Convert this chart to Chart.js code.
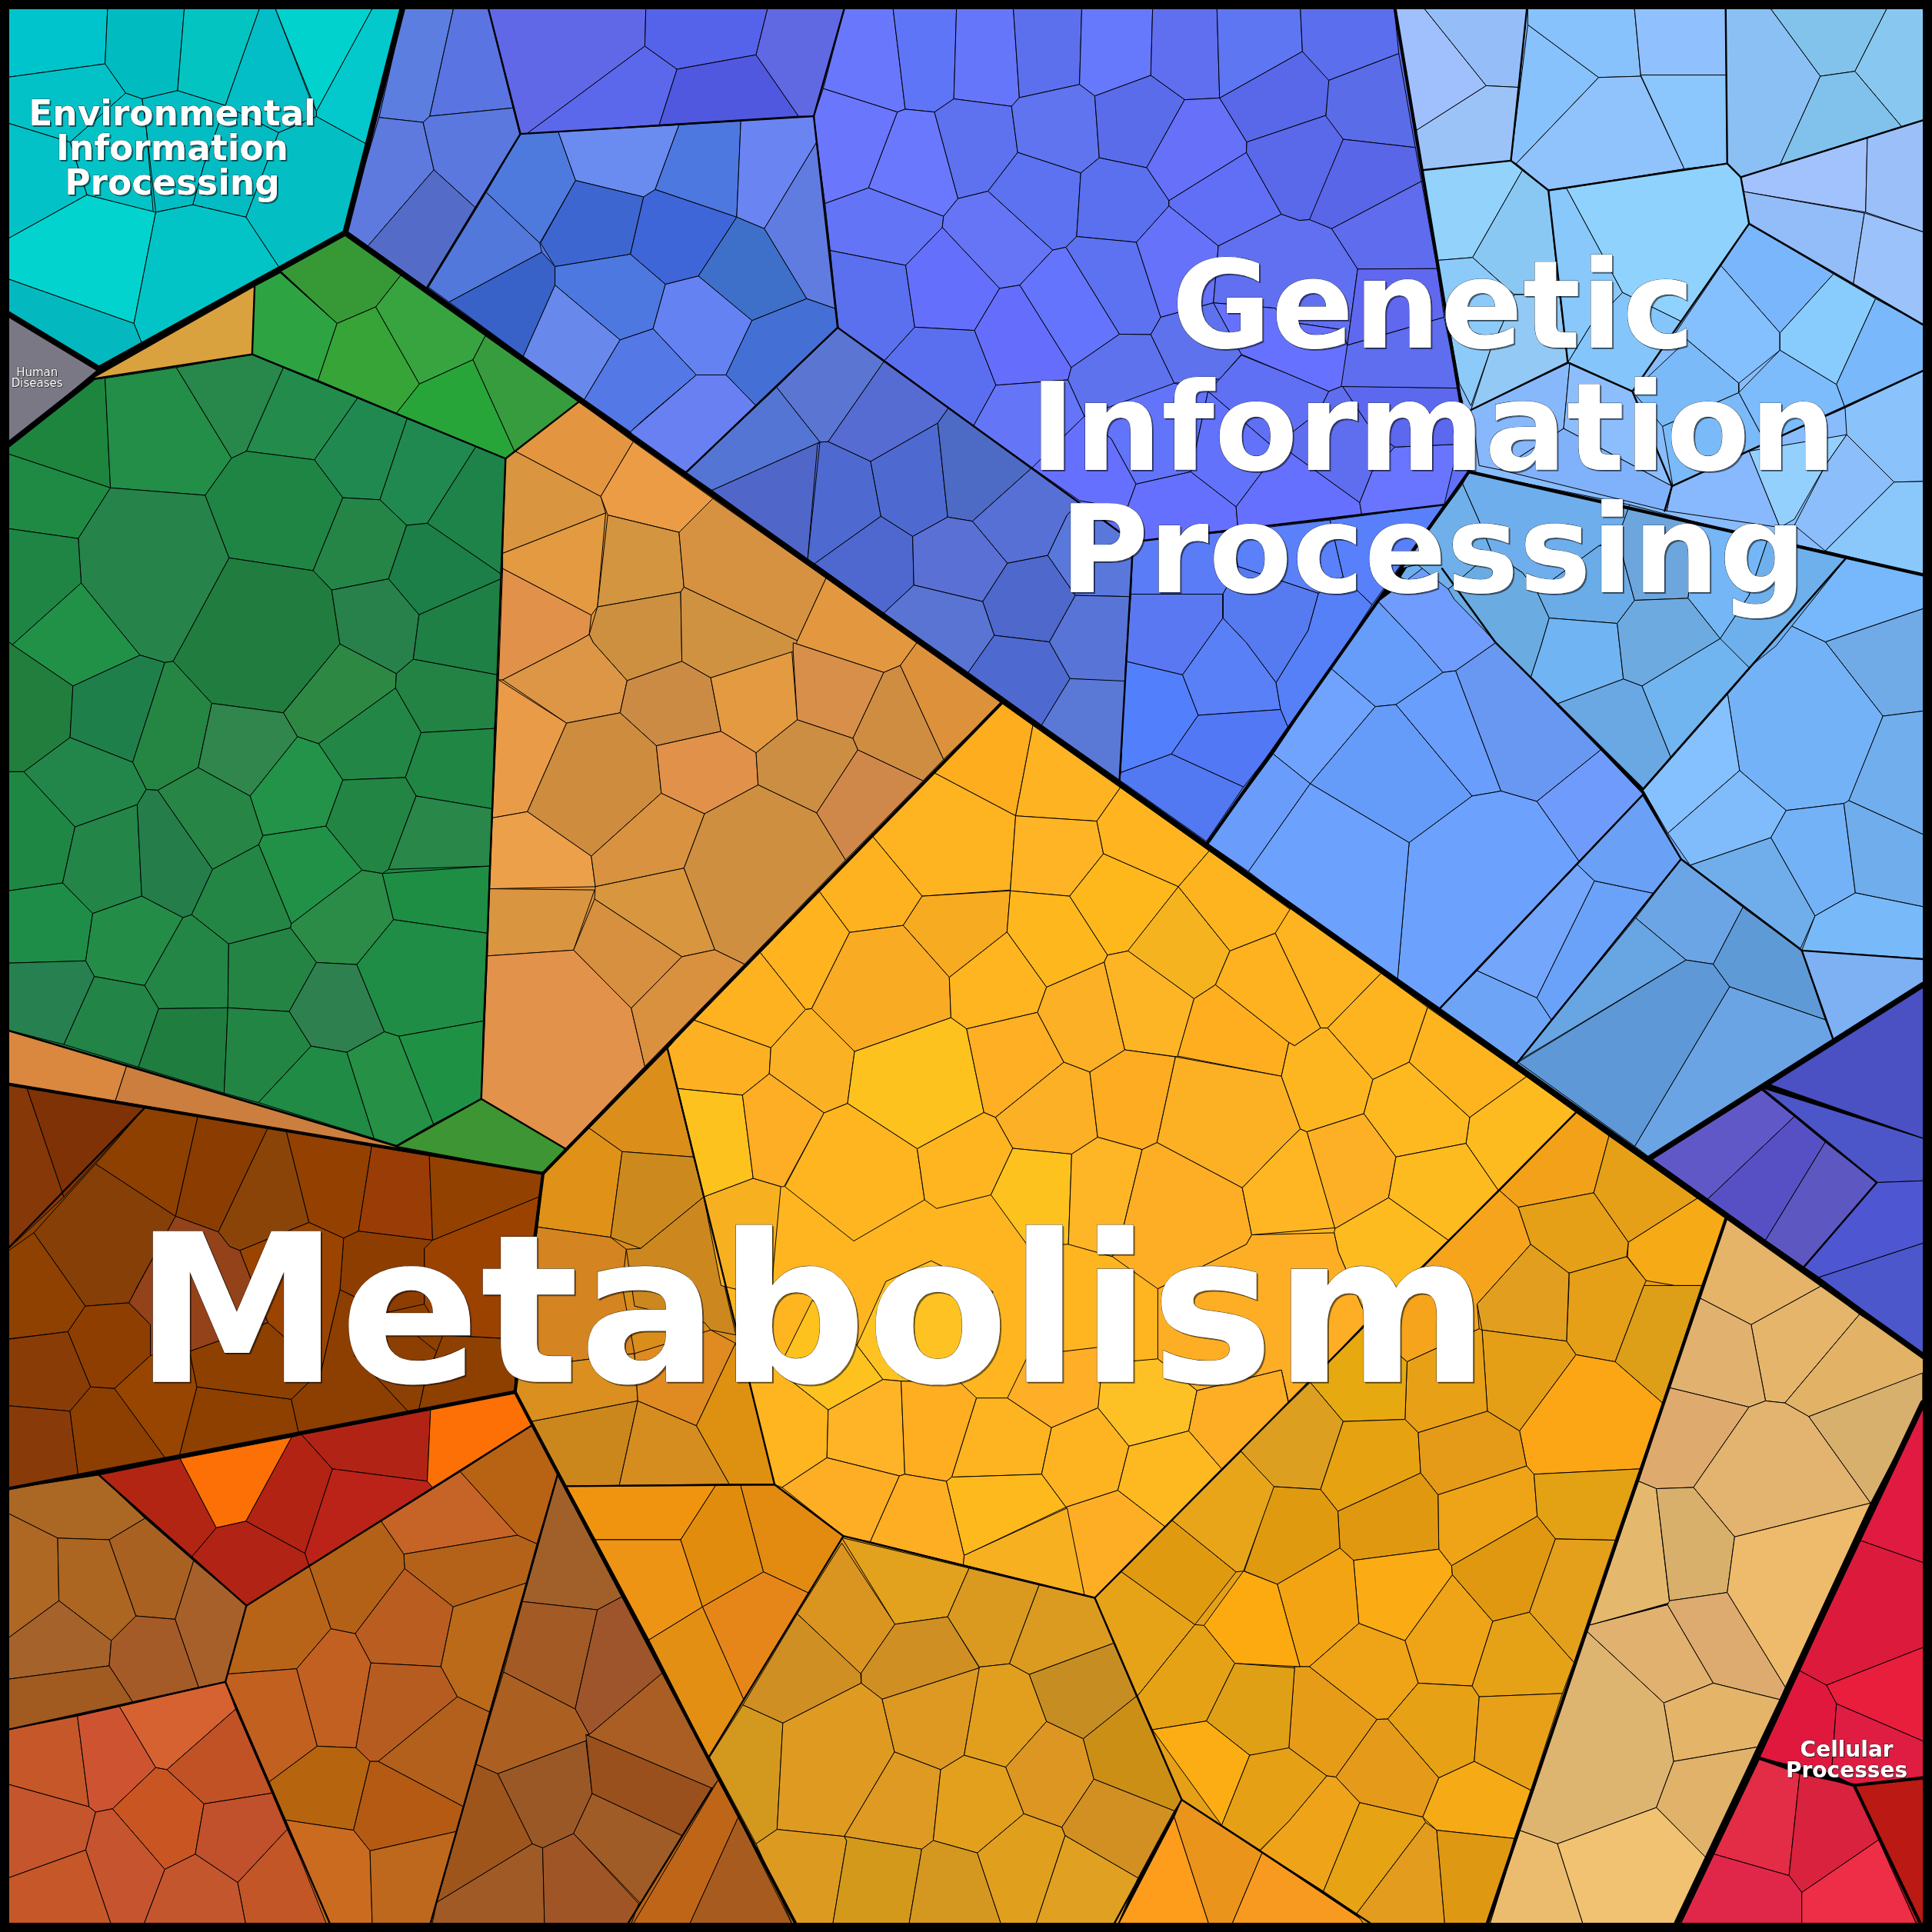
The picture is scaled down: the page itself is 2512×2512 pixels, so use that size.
<!DOCTYPE html>
<html lang="en">
<head>
<meta charset="UTF-8" />
<title>Voronoi treemap</title>
<script src="https://cdn.jsdelivr.net/npm/chart.js"></script>
<style>
  body { margin: 0; background: #000; }
  #chartBox { width: 2512px; height: 2512px; }
</style>
</head>
<body>
<div id="chartBox"><canvas id="treemap" width="2512" height="2512"></canvas></div>
<script>
// Cell outlines, as flat x,y lists.
// Units are 1/4689 of the picture; each group says which origin it was read from.
const W = 4689;

const baseCells = [
  [2432,1705, 2930,2047, 3825,2700, 2657,3878, 2047,3728, 1880,3603, 1620,2545],
  [0,2628, 1318,2848, 1250,3378, 0,3617],
  [1318,2848, 1620,2545, 1880,3603, 1375,3607, 1250,3378],
  [3382,0, 3545,975, 3565,1145, 3505,1225, 2750,1315, 2033,795, 1975,282, 2055,0],
  [3825,2700, 4190,2955, 3610,4667, 3325,4667, 2868,4368, 2657,3878],
  [3382,0, 4689,0, 4689,1395, 3565,1145],
  [3565,1145, 4480,1355, 3988,1915, 3630,1560, 3400,1400],
  [0,1095, 222,920, 612,860, 1227,1113, 1168,2667, 962,2782, 0,2495],
  [1227,1113, 1405,975, 2432,1705, 1372,2788, 1168,2667],
  [2047,3728, 2657,3878, 2868,4368, 2705,4667, 1930,4667, 1720,4265],
  [3988,1915, 4480,1355, 4667,1395, 4667,2328, 4373,2307, 4080,2085],
  [0,0, 982,0, 838,565, 240,895, 0,750],
  [982,0, 1180,0, 1263,325, 1037,697, 838,565],
  [1180,0, 2055,0, 1975,282, 1263,325],
  [1263,325, 1975,282, 2033,795, 1665,1147, 1037,697],
  [2033,795, 2750,1315, 2717,1895, 1665,1147],
  [2750,1315, 3505,1225, 2930,2047, 2717,1895],
  [3500,1380, 4080,2085, 3682,2580, 2930,2047],
  [4080,2085, 4373,2307, 4450,2525, 4005,2810, 3682,2580],
  [1290,3460, 1930,4667, 800,4667, 547,4082, 598,3897]
];
const baseColors = ['#feb520','#8e4000','#d98e1c','#6070f4','#e5a017','#88bcfc','#6eaeec','#208545','#d9953f','#df9a22','#74b2f8','#03c4c6','#5c7ee0','#5562ea','#5478e6','#5470d4','#5580f8','#6ca1fe','#64a2dd','#b86214'];

// origin 0,0
const envCells = [
  [0,0, 262,0, 255,155, 0,190],
  [262,0, 449,0, 431,220, 345,240, 305,226, 255,155],
  [449,0, 637,0, 547,256, 431,220],
  [637,0, 660,0, 755,245, 768,270, 768,283, 676,322, 547,256],
  [660,0, 915,0, 768,270],
  [915,0, 982,0, 890,350, 768,283, 768,270],
  [0,190, 255,155, 305,226, 170,345, 0,293],
  [305,226, 345,240, 355,310, 372,515, 211,473, 170,345],
  [345,240, 431,220, 547,256, 495,400, 468,497, 378,515, 355,310],
  [547,256, 676,322, 597,527, 468,497, 495,400],
  [676,322, 768,283, 890,350, 838,565, 678,650, 597,527],
  [0,293, 170,345, 211,473, 0,590],
  [0,590, 211,473, 378,515, 325,785, 0,670],
  [378,515, 468,497, 597,527, 678,650, 345,835, 325,785],
  [0,670, 325,785, 345,835, 240,895, 0,750],
  [0,750, 240,895, 0,1095],
  [618,695, 612,860, 222,920]
];
const envColors = ['#00c4cc','#00bcc1','#04c4c2','#03bdc7','#02d2cd','#03c8cc','#02c2c8','#04c3c6','#02bec4','#03bcc3','#03bfc3','#02c2c8','#02d3ce','#02c4c6','#03b9bf','#7a7885','#d9a23e'];

const greenTopCells = [
  [678,655, 838,565, 975,665, 912,745, 818,785],
  [618,695, 680,662, 818,785, 772,923, 612,860],
  [818,785, 912,745, 1018,932, 962,1003, 772,923],
  [975,665, 1178,815, 1148,873, 1018,932, 912,745],
  [1018,932, 1148,873, 1250,1098, 1227,1113, 962,1003],
  [1178,815, 1405,975, 1250,1098, 1148,873]
];
const greenTopColors = ['#369935','#2da441','#36a436','#37a43f','#28a539','#369c3d'];

const greenUpperCells = [
  [0,1095, 222,922, 255,918, 268,1184],
  [255,918, 428,892, 562,1112, 498,1202, 268,1184],
  [428,892, 612,860, 688,892, 598,1095, 562,1112],
  [688,892, 868,966, 763,1116, 598,1095],
  [868,966, 988,1016, 922,1213, 832,1208, 763,1116],
  [988,1016, 1155,1084, 1037,1270, 987,1275, 922,1213],
  [1155,1084, 1227,1113, 1216,1393, 1037,1270],
  [0,1095, 268,1184, 190,1307, 0,1280],
  [268,1184, 498,1202, 556,1354, 445,1560, 420,1605, 400,1608, 340,1590, 315,1560, 197,1415, 190,1307],
  [498,1202, 562,1112, 598,1095, 763,1116, 832,1208, 760,1385, 556,1354],
  [832,1208, 922,1213, 987,1275, 943,1405, 805,1432, 760,1385],
  [987,1275, 1037,1270, 1216,1393, 1216,1405, 1017,1492, 943,1405],
  [556,1354, 760,1385, 805,1432, 825,1563, 687,1730, 514,1707, 420,1605, 445,1560],
  [805,1432, 943,1405, 1017,1492, 1003,1600, 962,1635, 825,1563],
  [1017,1492, 1216,1405, 1208,1638, 1003,1600],
  [0,1280, 190,1307, 197,1415, 30,1565, 0,1540],
  [197,1415, 315,1560, 340,1590, 177,1665, 30,1565]
];
const greenUpperColors = ['#1e853f','#228e47','#28874a','#238b4c','#208950','#20894f','#1d8349','#1f8a44','#26834a','#1f8545','#248547','#1b7f47','#207d3f','#28804a','#1e8045','#1e8545','#229148'];

// origin 0,1560
const greenLowerCells = [
  [0,-20, 30,5, 177,105, 170,230, 58,313, 0,313],
  [177,105, 340,30, 400,48, 322,290, 170,230],
  [400,48, 420,45, 514,147, 481,303, 383,358, 355,356, 322,290],
  [514,147, 688,170, 722,228, 607,372, 481,303],
  [688,170, 825,3, 962,75, 960,110, 773,245, 722,228],
  [962,75, 1003,40, 1208,78, 1200,208, 1022,218, 960,110],
  [960,110, 1022,218, 984,327, 832,333, 773,245],
  [722,228, 773,245, 832,333, 791,445, 638,468, 607,372],
  [1022,218, 1200,208, 1195,403, 1010,372, 984,327],
  [0,313, 58,313, 182,447, 152,583, 0,605],
  [58,313, 170,230, 322,290, 355,356, 333,393, 182,447],
  [182,447, 333,393, 344,615, 225,657, 152,583],
  [333,393, 355,356, 383,358, 516,550, 465,660, 444,667, 344,615],
  [383,358, 481,303, 607,372, 638,468, 628,490, 516,550],
  [628,490, 638,468, 791,445, 879,552, 707,682],
  [791,445, 832,333, 984,327, 1010,372, 943,550, 928,560, 879,552],
  [1010,372, 1195,403, 1188,542, 943,550],
  [516,550, 628,490, 707,682, 705,692, 555,731, 465,660],
  [707,682, 879,552, 928,560, 955,672, 866,781, 768,776, 705,692],
  [928,560, 1188,542, 1183,705, 955,672],
  [0,605, 152,583, 225,657, 208,772, 0,778],
  [225,657, 344,615, 444,667, 351,832, 229,810, 208,772],
  [444,667, 465,660, 555,731, 553,886, 385,888, 351,832],
  [555,731, 705,692, 768,776, 702,895, 553,886],
  [768,776, 866,781, 933,944, 842,994, 755,979, 702,895],
  [866,781, 955,672, 1183,705, 1173,918, 968,955, 933,944],
  [0,778, 208,772, 229,810, 155,975, 0,935],
  [229,810, 351,832, 385,888, 336,1030, 155,975],
  [385,888, 553,886, 544,1093, 336,1030],
  [553,886, 702,895, 755,979, 627,1116, 544,1093],
  [755,979, 842,994, 908,1203, 627,1116],
  [842,994, 933,944, 968,955, 1052,1168, 962,1220, 908,1203],
  [968,955, 1173,918, 1168,1107, 1052,1168],
  [0,935, 308,1025, 280,1112, 0,1068],
  [308,1025, 962,1220, 960,1228, 280,1112],
  [962,1222, 1168,1107, 1372,1228, 1318,1288]
];
const greenLowerColors = ['#227e3c','#1f7f4b','#258643','#30864d','#2c8843','#228345','#228746','#229348','#1f8644','#1f8744','#228549','#238548','#257e4a','#278545','#209147','#228544','#288749','#238644','#2a8c47','#1e8e45','#1e8d47','#238d48','#238646','#248444','#2e804f','#1f8d45','#27804f','#238447','#1f7d3f','#238543','#1f8b45','#259046','#1f9145','#da8740','#cc7e3e','#3e9533'];

const brownTopCells = [
  [0,1070, 65,1080, 155,1345, 0,1490],
  [65,1080, 352,1128, 155,1345],
  [352,1128, 480,1150, 426,1392, 232,1265],
  [480,1150, 650,1178, 530,1430, 426,1392],
  [650,1178, 695,1186, 750,1407, 582,1475, 557,1465, 530,1430],
  [695,1186, 902,1222, 870,1428, 834,1445, 750,1407],
  [902,1222, 1042,1245, 1050,1450, 870,1428],
  [1042,1245, 1318,1288, 1308,1345, 1050,1450],
  [82,1432, 232,1265, 426,1392, 330,1568, 335,1560, 313,1602, 207,1610, 172,1560],
  [0,1490, 82,1432, 172,1560, 207,1610, 165,1672, 0,1692]
];
const brownTopColors = ['#873809','#7f3206','#8e4000','#8b3c00','#8b4408','#944000','#9a3c05','#934100','#853f07','#8e4100'];

// origin 0,3120
const brownLowCells = [
  [0,133, 165,112, 220,246, 170,305, 0,290],
  [207,50, 313,42, 365,95, 365,170, 278,250, 220,246, 165,112],
  [0,290, 170,305, 190,462, 0,497],
  [170,305, 220,246, 278,250, 402,420, 190,462],
  [278,250, 365,170, 460,160, 478,246, 435,415, 402,420],
  [478,246, 707,276, 725,358, 435,415],
  [707,276, 780,205, 825,10, 940,65, 1060,160, 1030,240, 860,170, 920,230, 990,305, 725,358],
  [860,170, 1030,240, 1017,300, 990,305, 920,230],
  [1060,160, 1075,120, 1250,130, 1250,258, 1017,300, 1030,240],
  [870,-132, 1050,-110, 1030,-90, 1030,45, 940,65, 825,10, 834,-115],
  [1050,-110, 1308,-215, 1290,-60, 1255,130, 1075,120, 1030,45, 1030,-90],
  [582,-85, 750,-153, 834,-115, 825,10, 780,205, 650,90],
  [426,-168, 530,-130, 557,-95, 582,-85, 650,90, 530,135, 460,160, 365,170, 365,95, 313,42, 335,0],
  [460,160, 530,135, 650,90, 780,205, 707,276, 478,246]
];
const brownLowColors = ['#8a3c06','#8f3e02','#883b08','#8c3f00','#974500','#8d4000','#8c3f00','#8c4004','#8e4000','#8e3d00','#9c4200','#9a4400','#94421a','#8e4000'];

const redCells = [
  [240,460, 437,420, 525,588, 466,658],
  [437,420, 708,368, 597,572, 525,588],
  [708,368, 732,362, 807,445, 740,650, 597,572],
  [732,362, 1045,302, 1037,475, 807,445],
  [807,445, 1037,475, 1050,490, 750,680, 740,650],
  [1045,302, 1250,262, 1290,340, 1050,490, 1037,475],
  [466,658, 525,588, 597,572, 740,650, 750,680, 598,777]
];
const redColors = ['#b12512','#fc7005','#b22314','#b12415','#bb2318','#fc7005','#b12315'];

const umberCells = [
  [0,497, 240,460, 352,565, 265,617, 140,613, 0,543],
  [0,543, 140,613, 143,765, 0,870],
  [140,613, 265,617, 330,802, 270,862, 143,765],
  [265,617, 352,565, 470,668, 425,810, 330,802],
  [470,668, 598,777, 547,962, 482,975, 425,810],
  [0,870, 143,765, 270,862, 265,923, 0,958],
  [330,802, 425,810, 482,975, 323,1012, 265,923, 270,862],
  [0,958, 265,923, 323,1012, 0,1082]
];
const umberColors = ['#ab6724','#ae6824','#ac6621','#a96121','#a8602a','#a5622a','#a55b28','#a15a1f'];

const rustCells = [
  [0,1082, 188,1045, 216,1265, 0,1205],
  [188,1045, 290,1022, 378,1170, 273,1270, 232,1278, 216,1265],
  [290,1022, 547,962, 572,1028, 405,1175, 378,1170],
  [572,1028, 660,1232, 495,1258, 405,1175],
  [378,1170, 405,1175, 495,1258, 474,1380, 400,1417, 273,1270],
  [495,1258, 660,1232, 697,1320, 577,1449, 474,1380],
  [0,1205, 216,1265, 232,1278, 208,1370, 0,1445],
  [232,1278, 273,1270, 400,1417, 342,1569, 276,1569, 208,1370],
  [0,1445, 208,1370, 276,1569, 0,1569],
  [400,1417, 474,1380, 577,1449, 600,1569, 342,1569],
  [577,1449, 697,1320, 810,1569, 600,1569]
];
const rustColors = ['#c55728','#ce5431','#d66131','#c05226','#c95522','#c0512c','#c5552d','#c6552f','#c55728','#c4562d','#c25626'];

const copperCells = [
  [1117,452, 1290,340, 1353,460, 1303,627, 1256,606],
  [925,572, 1117,452, 1256,606, 980,652],
  [980,652, 1256,606, 1303,627, 1277,722, 1100,780, 982,687],
  [750,680, 925,572, 980,652, 982,687, 862,845, 803,833],
  [598,777, 750,680, 803,833, 720,930, 552,943],
  [862,845, 982,687, 1100,780, 1070,925, 900,916],
  [1100,780, 1277,722, 1188,1035, 1110,998, 1070,925],
  [552,943, 720,930, 770,1118, 653,1205, 547,962],
  [720,930, 803,833, 862,845, 900,916, 864,1122, 770,1118],
  [900,916, 1070,925, 1110,998, 918,1155, 898,1155, 864,1122],
  [918,1155, 1110,998, 1188,1035, 1125,1265],
  [653,1205, 770,1118, 864,1122, 898,1155, 858,1322, 692,1297],
  [898,1155, 918,1155, 1125,1265, 1108,1325, 898,1372, 858,1322],
  [692,1297, 858,1322, 898,1372, 904,1569, 800,1569],
  [898,1372, 1108,1325, 1045,1569, 904,1569]
];
const copperColors = ['#b86214','#c56426','#b4621a','#b36116','#b86418','#b95e20','#bb6a1a','#c26020','#c26021','#b75c20','#b2601c','#b7640f','#b45a12','#ca6b20','#bd681c'];

const sepiaCells = [
  [1353,460, 1510,755, 1450,787, 1268,767],
  [1268,767, 1450,787, 1396,1028, 1222,938],
  [1450,787, 1510,755, 1608,940, 1430,1090, 1396,1028],
  [1222,938, 1396,1028, 1430,1090, 1422,1105, 1208,1185, 1155,1162],
  [1430,1090, 1608,940, 1743,1200, 1728,1220, 1422,1090],
  [1208,1185, 1422,1105, 1437,1233, 1392,1330, 1317,1365, 1292,1355],
  [1422,1090, 1728,1220, 1655,1335, 1437,1233],
  [1437,1233, 1655,1335, 1555,1500, 1392,1330],
  [1155,1162, 1208,1185, 1292,1355, 1060,1497],
  [1060,1497, 1292,1355, 1317,1365, 1322,1569, 1045,1569],
  [1317,1365, 1392,1330, 1550,1500, 1525,1569, 1322,1569],
  [1743,1200, 1792,1290, 1665,1569, 1525,1569],
  [1792,1290, 1932,1569, 1665,1569]
];
const sepiaColors = ['#a1602a','#a35a25','#9e552b','#ab6022','#aa5e23','#9b5827','#99501c','#a05c26','#9e551c','#a05a26','#a05526','#bf6518','#a85b1e'];

// origin 0,1560
const amberTopCells = [
  [1318,1288, 1430,1178, 1510,1235, 1482,1443, 1305,1418],
  [1430,1178, 1620,985, 1683,1248, 1510,1235],
  [1510,1235, 1683,1248, 1708,1345, 1555,1470, 1482,1443],
  [1555,1470, 1708,1345, 1760,1568, 1786,1680, 1725,1668, 1710,1650, 1540,1610, 1520,1472]
];
const amberTopColors = ['#e09218','#db8f1a','#cc8a1e','#cc881f'];

// origin 0,3120
const amberLowCells = [
  [1305,-142, 1482,-117, 1520,-88, 1510,0, 1540,165, 1380,185, 1270,190, 1250,230],
  [1250,230, 1270,190, 1380,185, 1540,165, 1548,280, 1290,330, 1253,260],
  [1290,330, 1548,280, 1503,485, 1375,487],
  [1548,280, 1690,340, 1770,482, 1503,485],
  [1690,340, 1785,140, 1822,240, 1880,483, 1770,482],
  [1540,165, 1725,108, 1785,140, 1690,340, 1548,280],
  [1375,487, 1737,485, 1652,617, 1445,617],
  [1445,617, 1652,617, 1705,780, 1575,860],
  [1737,485, 1797,483, 1853,695, 1705,780, 1652,617],
  [1797,483, 1880,483, 2047,608, 1962,746, 1853,695],
  [1853,695, 1962,746, 1805,1005, 1705,780],
  [1705,780, 1805,1005, 1720,1145, 1575,860]
];
const amberLowColors = ['#d48420','#da8f1e','#cb871c','#d68d20','#de9010','#e08a22','#f0940f','#ee9414','#e18c0c','#e38a11','#e68619','#e38f14'];

// origin 1560,3120
const goldCells = [
  [483,612, 792,686, 740,804, 612,822],
  [792,686, 962,727, 890,918, 817,926, 740,804],
  [962,727, 1097,758, 1143,868, 938,944, 890,918],
  [483,625, 612,822, 529,942, 375,797],
  [612,822, 740,804, 817,928, 581,1004, 530,965, 529,942],
  [375,797, 529,942, 530,965, 340,1062, 243,1018],
  [243,1018, 340,1062, 326,1320, 275,1355, 162,1145],
  [340,1062, 530,965, 581,1004, 611,1132, 489,1337, 326,1320],
  [581,1004, 817,928, 780,1140, 723,1175, 611,1132],
  [817,926, 890,918, 938,944, 980,1058, 881,1169, 780,1140],
  [938,944, 1143,868, 1198,997, 1069,1100, 980,1058],
  [611,1132, 723,1175, 705,1347, 677,1368, 489,1337],
  [723,1175, 780,1140, 881,1169, 925,1282, 812,1377, 705,1347],
  [881,1169, 980,1058, 1069,1100, 1095,1198, 1017,1315, 925,1282],
  [1069,1100, 1198,997, 1308,1248, 1290,1275, 1095,1198],
  [1095,1198, 1290,1275, 1202,1438, 1025,1335, 1017,1315],
  [275,1355, 326,1320, 489,1337, 495,1348, 458,1569, 372,1569],
  [489,1337, 677,1368, 643,1569, 458,1569, 495,1348],
  [677,1368, 705,1347, 812,1377, 876,1569, 643,1569],
  [812,1377, 925,1282, 1017,1315, 1025,1335, 948,1569, 876,1569],
  [1025,1335, 1202,1438, 1145,1569, 948,1569],
  [1145,1569, 1290,1290, 1380,1569],
  [1290,1290, 1308,1248, 1503,1377, 1422,1569, 1380,1569],
  [1503,1377, 1790,1569, 1422,1569]
];
const goldColors = ['#e2a21d','#da9a20','#db9a20','#da9520','#cf8f23','#cf8f22','#d3981e','#df9a22','#de9923','#e29f1e','#c68e22','#de9a22','#e2a01d','#de9622','#cc8f16','#d28f22','#dc9b20','#d3991b','#d4971f','#e09f1c','#e0a022','#fe9c1c','#ea941c','#f89a20'];

// origin 1560,1560
const yellowCells = [
  [872,145, 947,200, 905,420, 708,316],
  [947,200, 1160,350, 1102,433, 905,420],
  [708,316, 905,420, 892,600, 678,615, 558,470],
  [905,420, 1102,433, 1118,512, 1036,615, 892,602],
  [1160,350, 1375,505, 1300,592, 1118,512, 1102,433],
  [558,470, 678,615, 632,686, 502,703, 428,603],
  [678,615, 892,602, 884,702, 744,812, 632,686],
  [892,602, 1036,615, 1128,758, 1120,775, 980,836, 884,702],
  [1118,512, 1300,592, 1178,748, 1128,758, 1036,615],
  [428,603, 502,703, 410,888, 395,890, 285,752],
  [502,703, 632,686, 744,812, 748,910, 514,992, 410,888],
  [744,812, 884,702, 980,836, 958,897, 786,937, 748,910],
  [1300,592, 1425,748, 1390,830, 1338,864, 1177,748],
  [1375,505, 1575,650, 1535,705, 1425,748, 1300,592],
  [285,752, 395,890, 311,983, 122,915],
  [122,915, 311,983, 307,1046, 242,1098, 85,1082, 60,985],
  [395,890, 410,888, 514,992, 497,1118, 440,1141, 307,1046, 311,983],
  [514,992, 748,910, 786,937, 828,1140, 666,1228, 497,1118],
  [786,937, 958,897, 1022,1018, 856,1152, 828,1140],
  [958,897, 980,836, 1120,775, 1170,988, 1085,1042, 1022,1018],
  [1120,775, 1128,758, 1178,748, 1338,864, 1298,1005, 1170,988],
  [1390,830, 1568,970, 1550,1052, 1298,1003, 1338,864],
  [1022,1018, 1085,1042, 1104,1200, 1041,1241, 898,1227, 856,1152],
  [1085,1042, 1170,988, 1293,1005, 1248,1213, 1212,1230, 1104,1200],
  [1293,1005, 1550,1052, 1596,1180, 1560,1215, 1455,1323, 1248,1213],
  [85,1082, 242,1098, 268,1300, 148,1345],
  [242,1098, 307,1046, 440,1141, 343,1320, 335,1320, 268,1300],
  [440,1141, 497,1118, 666,1228, 684,1352, 512,1452, 345,1320],
  [666,1228, 828,1140, 856,1152, 898,1227, 845,1340, 713,1373, 684,1352],
  [898,1227, 1041,1241, 1033,1460, 932,1460, 845,1340],
  [1041,1241, 1104,1200, 1212,1230, 1160,1445, 1140,1490, 1033,1460],
  [1212,1230, 1248,1213, 1455,1323, 1478,1437, 1465,1460, 1250,1568, 1140,1490, 1160,1445],
  [1455,1323, 1560,1215, 1596,1180, 1612,1187, 1680,1420, 1478,1437],
  [148,1345, 268,1300, 335,1320, 310,1590, 190,1560]
];
const yellowColors = ['#fdad1d','#feb322','#feb321','#feb425','#ffb420','#feb220','#f7ab21','#feb81e','#feb81b','#feb31f','#f9ab24','#feb51f','#f5b31f','#feb41f','#feb220','#fdb022','#fab124','#fec21f','#feaf23','#fbb025','#feb525','#feae1e','#fbb025','#feac22','#fcb024','#fec21f','#feae25','#feb520','#feb520','#fec21f','#feb526','#feae25','#ffb622','#f7b020'];

// origin 3120,1560
const yellowRightCells = [
  [15,640, 232,802, 102,935, 85,935, -25,705],
  [232,802, 345,885, 300,1018, 212,1060, 102,935],
  [345,885, 585,1053, 447,1152, 300,1018],
  [585,1053, 705,1140, 517,1330, 438,1215, 447,1152],
  [-135,748, -25,705, 85,935, 22,978, 8,970, -170,830],
  [85,935, 102,935, 212,1060, 190,1143, 52,1187, 36,1180, -10,1052, 8,970, 22,978],
  [212,1060, 300,1018, 447,1152, 438,1215, 268,1248, 190,1143],
  [52,1187, 190,1143, 268,1248, 250,1347, 120,1422],
  [268,1248, 438,1215, 517,1330, 395,1450, 250,1347],
  [118,1432, 120,1422, 250,1347, 395,1450, 200,1645, 128,1478],
  [-95,1460, -82,1437, 118,1432, 128,1478, 200,1645, 8,1845, -10,1765, -215,1815, -310,1738, -310,1568]
];
const yellowRightColors = ['#feb420','#feb41e','#feb41e','#febb1f','#feb220','#feb620','#feb920','#fdb025','#febb1f','#febb1f','#feae25'];

// origin 1560,3120
const yellowLowCells = [
  [412,35, 520,145, 583,228, 450,302, 320,200, 345,170],
  [520,145, 590,-10, 700,-60, 850,15, 810,200, 770,235, 627,232, 583,228],
  [230,120, 320,200, 450,302, 447,418, 338,490, 320,483],
  [450,302, 583,228, 627,232, 636,458, 623,462, 447,418],
  [627,232, 770,235, 810,273, 750,465, 737,475, 636,458],
  [810,273, 885,273, 992,345, 968,458, 750,465],
  [885,273, 935,170, 1105,150, 1115,240, 1105,297, 992,345],
  [992,345, 1105,297, 1180,390, 1153,497, 1027,538, 968,458],
  [1105,297, 1115,190, 1250,178, 1345,255, 1325,353, 1180,390],
  [1345,255, 1550,205, 1568,290, 1405,445, 1325,353],
  [1325,353, 1405,445, 1267,585, 1153,497, 1180,390],
  [338,490, 447,418, 623,462, 552,622, 487,608],
  [623,462, 636,458, 737,475, 780,655, 778,678, 552,622],
  [737,475, 750,465, 968,458, 1027,538, 780,655],
  [1027,538, 1153,497, 1267,585, 1097,758, 1072,752],
  [780,655, 1030,540, 1072,752, 778,678]
];
const yellowLowColors = ['#fec21f','#fec322','#feb520','#feb426','#feae20','#feb420','#feaf27','#feb420','#fec125','#feae25','#feb920','#feae25','#feae23','#feba1d','#feae25','#f7b020'];

// origin 3120,3120
const ochreCells = [
  [705,-420, 785,-363, 748,-225, 565,-190, 520,-230],
  [785,-363, 1000,-212, 832,-105, 748,-225],
  [1000,-212, 1070,-165, 1010,0, 945,0, 875,-12, 830,-70, 832,-105],
  [190,95, 395,-110, 520,-230, 565,-190, 595,-100, 465,45, 470,105, 295,185],
  [565,-190, 748,-225, 832,-105, 828,-70, 688,-30, 595,-100],
  [688,-30, 828,-70, 875,-12, 870,0, 800,185, 705,168, 682,135, 688,0],
  [870,0, 945,0, 1010,0, 915,285, 800,185],
  [595,-100, 688,-30, 687,0, 682,135, 477,108, 465,45],
  [477,108, 682,135, 705,168, 568,353, 490,305],
  [705,168, 800,185, 915,285, 860,445, 603,458, 585,438, 568,353],
  [295,185, 470,105, 477,108, 490,305, 322,357, 290,325],
  [60,235, 190,95, 295,185, 290,325, 140,330],
  [-110,400, 60,235, 140,330, 85,495, -30,488],
  [140,330, 290,325, 322,357, 328,455, 127,548, 85,495],
  [322,357, 490,305, 568,353, 585,438, 370,508, 328,455],
  [585,438, 603,458, 611,560, 403,680, 372,640, 370,508],
  [603,458, 860,445, 800,618, 655,615, 611,560],
  [127,548, 328,455, 370,508, 372,640, 165,667, 132,637],
  [-30,488, 85,495, 127,548, 132,637, -20,725, -100,693],
  [372,640, 403,680, 405,702, 290,862, 178,820, 165,667],
  [405,702, 503,815, 453,972, 322,965, 290,862],
  [403,680, 611,560, 655,615, 592,793, 503,815, 405,702],
  [655,615, 800,618, 700,915, 592,793],
  [-20,725, 132,637, 165,667, 178,820, 58,925, 35,925],
  [8,1122, 22,925, 58,925, 222,1053, 122,1193, 100,1190],
  [58,925, 178,820, 290,862, 322,965, 248,1052, 222,1053],
  [322,965, 453,972, 470,998, 458,1155, 372,1195, 248,1052],
  [453,972, 503,815, 592,793, 700,915, 672,990, 470,998],
  [470,998, 672,990, 595,1225, 458,1155],
  [122,1193, 222,1053, 248,1052, 372,1195, 333,1290, 180,1255],
  [372,1195, 458,1155, 595,1225, 555,1342, 367,1322, 333,1290],
  [100,1190, 122,1193, 180,1255, 92,1470, -62,1372, 8,1300],
  [180,1255, 333,1290, 340,1303, 172,1525, 92,1470],
  [340,1303, 367,1322, 388,1569, 205,1569, 172,1525],
  [367,1322, 555,1342, 490,1569, 388,1569]
];
const ochreColors = ['#f3a118','#e5a017','#f5aa16','#f5a41b','#e5a017','#e5a017','#dd9f17','#e29e1f','#e59f17','#fca616','#e8a117','#e6a910','#dc9f1f','#e6a211','#e59a18','#efa417','#e3a214','#df980f','#e09a10','#fbab13','#efa316','#df9810','#e4a01a','#f3a413','#e79c18','#efa317','#e6a114','#e6a217','#e7a017','#e59a1a','#f5aa16','#efa318','#e6a313','#e39c1d','#df9812'];

// origin 1560,3120
const ochreLeftCells = [
  [1097,758, 1162,695, 1340,823, 1200,997, 1143,868],
  [1162,695, 1285,570, 1440,695, 1340,823],
  [1285,570, 1452,403, 1532,488, 1458,693, 1440,695],
  [1362,825, 1458,693, 1540,725, 1595,925, 1437,917],
  [1200,997, 1340,823, 1362,825, 1437,917, 1368,1057, 1237,1078],
  [1368,1057, 1437,917, 1582,928, 1568,1125, 1473,1140],
  [1237,1078, 1368,1057, 1473,1140, 1405,1310],
  [1473,1140, 1568,1122, 1660,1190, 1568,1300, 1498,1370, 1405,1310]
];
const ochreLeftColors = ['#e7a318','#e09a10','#e8a51a','#fcaa10','#e5a215','#e0a015','#fbad13','#e5a015'];

// origin 3120,3120
const tanCells = [
  [1070,-165, 1302,0, 1130,95, 1005,30],
  [1302,0, 1393,70, 1212,285, 1165,280, 1130,95],
  [1393,70, 1569,185, 1569,205, 1270,318, 1212,285],
  [1005,30, 1130,95, 1165,280, 1125,295, 932,248],
  [932,248, 1125,295, 990,490, 900,493, 857,475],
  [1125,295, 1165,280, 1212,285, 1270,318, 1420,528, 1090,610, 990,490],
  [1270,318, 1547,212, 1547,285, 1420,528],
  [857,475, 900,493, 932,770, 735,825],
  [900,493, 990,490, 1090,610, 1072,745, 932,765],
  [1090,610, 1420,528, 1213,975, 1072,745],
  [932,765, 1072,745, 1213,975, 1200,1005, 1038,965, 927,775],
  [735,825, 927,775, 1038,965, 918,1013, 732,840],
  [918,1013, 1038,965, 1200,1005, 1145,1120, 942,1155],
  [732,840, 918,1013, 942,1155, 900,1267, 660,1355, 567,1322],
  [942,1155, 1145,1120, 1022,1390, 900,1267],
  [567,1322, 660,1355, 728,1569, 490,1569],
  [660,1355, 900,1267, 1022,1390, 950,1569, 728,1569]
];
const tanColors = ['#e5b468','#e4b56b','#e2b266','#e1b26f','#dfaa6e','#e2b46f','#d8b06e','#e4b96e','#d8b06c','#edbb6b','#ddab6f','#e1b16f','#e4b469','#deb471','#e0b26a','#ecbc6e','#f0c271'];

const crimsonCells = [
  [1547,285, 1569,285, 1569,680, 1393,618],
  [1393,618, 1569,680, 1569,870, 1313,970, 1248,935],
  [1313,970, 1569,870, 1569,1115, 1337,1015],
  [1248,935, 1313,970, 1337,1015, 1325,1185, 1150,1147],
  [1337,1015, 1569,1115, 1569,1195, 1380,1213, 1325,1185],
  [1150,1150, 1248,1185, 1222,1432, 1040,1380],
  [1248,1185, 1380,1213, 1440,1345, 1253,1473, 1222,1432],
  [1040,1380, 1222,1432, 1253,1473, 1253,1569, 950,1569],
  [1253,1473, 1440,1345, 1540,1569, 1253,1569],
  [1380,1213, 1569,1195, 1569,1569, 1540,1569]
];
const crimsonColors = ['#e01a40','#db1a3c','#e81e3c','#e0183e','#df1c42','#e32c45','#d9223d','#e0274a','#ee2d46','#bb1913'];

// origin 3120,1560
const indigoCells = [
  [1170,1070, 1569,815, 1569,1210],
  [1155,1080, 1569,1210, 1569,1305, 1435,1310],
  [1155,1085, 1235,1150, 1025,1350, 885,1250],
  [1235,1150, 1310,1212, 1165,1450, 1025,1350],
  [1310,1212, 1435,1310, 1258,1515, 1165,1450],
  [1435,1310, 1569,1305, 1569,1450, 1295,1540, 1258,1515],
  [1295,1540, 1569,1450, 1569,1745]
];
const indigoColors = ['#4b50c2','#4c56c8','#6158c8','#5750c5','#5d57c2','#4f56d2','#4c57cc'];

const skyCells = [
  [110,62, 225,-100, 320,0, 382,72, 268,150, 218,155],
  [225,-100, 345,-190, 510,0, 413,68, 382,72, 320,0],
  [150,0, 110,62, 218,155, 60,342, -30,270],
  [-30,270, 60,342, -90,555, -190,487],
  [218,155, 268,150, 453,372, 300,485, 60,342],
  [268,150, 382,72, 413,68, 523,360, 453,372],
  [413,68, 510,0, 765,260, 610,385, 523,360],
  [610,385, 765,260, 868,368, 712,530],
  [453,372, 523,360, 610,385, 712,530, 375,887, 272,815, 300,485],
  [60,342, 300,485, 272,815, 0,625, -90,555],
  [708,538, 750,578, 610,862, 465,796],
  [750,578, 893,608, 645,915, 610,862],
  [708,538, 868,368, 960,525, 893,608, 750,578],
  [465,796, 610,862, 645,915, 562,1020, 375,887],
  [960,525, 1110,642, 1038,780, 972,770, 850,668],
  [850,668, 972,770, 565,1015],
  [972,770, 1038,780, 1078,835, 848,1222, 565,1018],
  [1110,642, 1253,747, 1310,915, 1078,835, 1038,780],
  [1078,835, 1310,915, 1330,965, 885,1250, 848,1222],
  [1253,747, 1569,768, 1569,815, 1330,965]
];
const skyColors = ['#669cfa','#6f9cfd','#6fa3fe','#6a9cfc','#669cf9','#6a9efc','#6898f2','#6f9cfc','#6ca2fe','#6ca1fe','#74a6fc','#6aa2fa','#6aa0f5','#6ea4f6','#6ca5e5','#68a5e3','#5e98d6','#5e9ad6','#6ba4e4','#7eb1f4'];

const azureCells = [
  [1360,-205, 1569,-160, 1569,-90, 1310,-2, 1225,-42],
  [1310,-2, 1569,-90, 1569,163, 1450,178],
  [1225,-42, 1310,-2, 1450,178, 1367,385, 1355,390, 1215,407, 1102,310, 1073,125, 1180,0],
  [1073,125, 1102,310, 928,462, 868,358],
  [1102,310, 1215,407, 1178,473, 982,540, 928,462],
  [1450,178, 1569,163, 1569,475, 1367,383],
  [1215,407, 1355,390, 1383,607, 1285,663, 1178,473],
  [1355,390, 1367,383, 1569,475, 1569,645, 1383,607],
  [982,540, 1178,473, 1285,663, 1250,742],
  [1285,663, 1383,607, 1569,645, 1569,768, 1253,747]
];
const azureColors = ['#76b8fb','#70abe8','#74b2f8','#85c0ff','#80bbfb','#70aeee','#74b2f8','#6fadec','#70aeeb','#78baf9'];

// origin 3120,0
const steelCells = [
  [445,1145, 835,1225, 810,1300, 760,1325, 610,1435, 575,1390, 500,1340, 470,1265, 430,1175],
  [430,1175, 470,1265, 500,1340, 395,1430, 320,1370, 280,1380, 345,1290],
  [395,1430, 500,1340, 575,1390, 610,1435, 640,1500, 620,1568, 595,1645, 520,1568, 410,1455],
  [610,1435, 760,1325, 810,1320, 847,1457, 805,1513, 640,1500],
  [835,1225, 1000,1268, 977,1452, 847,1457, 810,1320, 810,1295],
  [1000,1268, 1170,1310, 1125,1445, 1055,1550, 977,1452],
  [1170,1310, 1360,1355, 1190,1568, 1125,1620, 1068,1568, 1055,1550, 1125,1445],
  [620,1568, 640,1500, 805,1513, 820,1648, 660,1708, 595,1645],
  [805,1513, 847,1457, 977,1452, 1055,1550, 865,1665, 820,1648],
  [865,1665, 1055,1550, 1125,1620, 935,1838],
  [660,1708, 820,1648, 865,1665, 935,1838, 868,1915]
];
const steelColors = ['#6eaeec','#6fb0ea','#6aabe2','#6aace8','#6da6dc','#74b6f6','#6eb0ec','#70b4f3','#6daae0','#70b4f0','#6aa8e4'];

const paleCells = [
  [262,0, 320,0, 487,208, 315,318],
  [320,0, 588,0, 567,212, 487,208],
  [487,208, 567,212, 547,390, 332,413, 315,318],
  [588,60, 760,188, 560,397, 547,390],
  [588,0, 845,0, 862,185, 760,188, 588,60],
  [845,0, 1068,0, 1070,182, 862,182],
  [760,188, 862,185, 968,410, 638,462, 560,397],
  [862,182, 1070,182, 1072,397, 968,410],
  [1068,0, 1162,0, 1298,185, 1200,400, 1105,430, 1072,397],
  [1162,0, 1470,0, 1382,173, 1298,185],
  [1470,0, 1569,0, 1569,285, 1495,307, 1382,173],
  [1298,185, 1382,173, 1495,307, 1200,400],
  [1105,430, 1412,335, 1408,515, 1112,465],
  [1412,335, 1569,285, 1569,570, 1408,515],
  [1112,465, 1405,517, 1378,690, 1125,543],
  [1405,517, 1569,570, 1569,800, 1378,690],
  [332,413, 547,390, 575,413, 454,625, 368,632],
  [575,413, 638,462, 665,715, 555,715, 454,625],
  [368,632, 454,625, 555,715, 580,715, 525,790, 497,850, 450,985, 422,930],
  [555,715, 665,715, 685,880, 450,995, 497,850, 525,790],
  [638,462, 682,457, 770,620, 818,710, 740,790, 685,880],
  [682,457, 968,410, 1072,397, 1105,430, 1125,543, 960,780, 818,710, 770,620],
  [818,710, 960,780, 842,950, 685,880, 740,790],
  [1125,543, 1330,665, 1200,808, 1057,645],
  [1057,645, 1200,808, 1200,850, 1100,930, 975,825, 945,810],
  [1330,665, 1432,725, 1337,933, 1200,850, 1200,808],
  [1432,725, 1569,800, 1569,890, 1358,990, 1337,933],
  [975,825, 1100,930, 1100,953, 915,1035, 842,950],
  [1100,953, 1200,850, 1337,933, 1358,990, 1165,1075],
  [915,1035, 1100,953, 1165,1075, 940,1180],
  [1358,990, 1569,890, 1569,1168, 1477,1170, 1362,1055],
  [1125,1095, 1362,1055, 1310,1130, 1235,1260, 1200,1280],
  [1310,1130, 1362,1055, 1477,1170, 1310,1337, 1235,1275],
  [1477,1170, 1569,1168, 1569,1400, 1310,1337],
  [1125,1095, 1200,1280, 925,1240, 938,1180],
  [450,995, 690,880, 675,1040, 520,1140, 470,1130],
  [690,880, 842,950, 938,1180, 675,1040],
  [675,1040, 938,1180, 925,1240, 520,1140]
];
const paleColors = ['#a0c0fd','#95bef8','#9bc3f8','#88c2fc','#88c2fc','#90c0fd','#90c2fc','#8bc6fc','#8bc0f4','#82c3ec','#88c8f0','#80c2ec','#a2c2fd','#9bbff8','#92bdf8','#9cc2fc','#92d2fb','#8ac8f4','#8ccafa','#92caf5','#88c8fa','#90d2fe','#84c6fb','#7ab6fc','#84c0fe','#88ccfe','#78b8fb','#7abaf9','#7cbcfc','#7abaf9','#8ac2fc','#94d0fe','#8bbefb','#8ac8fc','#88b8fd','#88b8fc','#8cbefd','#80b2fb'];

// origin 1560,0
const geneticCells = [
  [495,0, 605,0, 637,265, 618,272, 438,215],
  [605,0, 762,0, 755,240, 708,272, 637,265],
  [762,0, 898,0, 914,237, 895,258, 755,240],
  [898,0, 1066,0, 1060,205, 914,237],
  [1066,0, 1238,0, 1233,183, 1097,233, 1060,205],
  [1238,0, 1393,0, 1400,238, 1315,242, 1233,183],
  [1393,0, 1595,0, 1601,125, 1400,238],
  [438,215, 618,272, 548,456, 442,494, 415,282],
  [618,272, 637,265, 708,272, 765,482, 730,525, 548,456],
  [708,272, 755,240, 895,258, 910,370, 838,464, 765,482],
  [895,258, 914,237, 1060,205, 1097,233, 1108,383, 1063,420, 910,370],
  [1097,233, 1233,183, 1315,242, 1223,407, 1108,383],
  [1315,242, 1400,238, 1466,345, 1465,370, 1277,487, 1223,407],
  [1400,238, 1601,125, 1666,195, 1658,280, 1466,345],
  [442,494, 548,456, 730,525, 727,552, 638,644, 455,608],
  [730,525, 765,482, 838,464, 995,607, 915,692, 866,700, 727,552],
  [838,464, 910,370, 1063,420, 1053,574, 1027,600, 995,607],
  [1063,420, 1108,383, 1223,407, 1277,487, 1277,500, 1198,588, 1053,574],
  [1277,500, 1277,487, 1465,370, 1550,520, 1397,597],
  [1466,345, 1658,280, 1700,338, 1620,533, 1593,535, 1550,520, 1465,370],
  [455,608, 638,644, 660,794, 587,875, 473,795],
  [638,644, 727,552, 866,700, 805,802, 660,794],
  [866,700, 915,692, 1040,892, 1032,922, 857,935, 805,802],
  [915,692, 995,607, 1027,600, 1157,811, 1040,892],
  [1027,600, 1053,574, 1198,588, 1257,770, 1233,812, 1157,811],
  [1198,588, 1277,500, 1397,597, 1385,735, 1257,770],
  [587,875, 660,794, 805,802, 857,935, 803,1033],
  [857,935, 1032,922, 1072,1010, 945,1135, 803,1033],
  [1040,892, 1157,811, 1233,812, 1290,930, 1195,980, 1072,1010, 1032,922],
  [1233,812, 1257,770, 1385,735, 1453,860, 1400,920, 1290,930],
  [1550,520, 1593,535, 1620,533, 1672,555, 1735,653, 1710,838, 1695,800, 1560,780, 1535,748, 1385,735, 1397,597],
  [1535,748, 1560,780, 1695,800, 1710,838, 1698,937, 1665,950, 1560,905, 1453,860, 1385,735],
  [1072,1010, 1290,930, 1372,950, 1330,1145, 1197,1175, 1137,1065],
  [1372,950, 1400,920, 1453,862, 1560,905, 1665,950, 1640,1000, 1530,1085],
  [945,1135, 1072,1010, 1137,1065, 1197,1175, 1175,1235, 1060,1215],
  [1197,1175, 1330,1145, 1440,1230, 1445,1290, 1190,1315, 1175,1235],
  [1330,1145, 1372,950, 1530,1085, 1500,1150, 1440,1230],
  [1530,1085, 1640,1000, 1665,950, 1698,937, 1770,1045, 1825,1085, 1770,1145, 1740,1220, 1560,1090],
  [1440,1230, 1500,1150, 1560,1090, 1740,1220, 1745,1250, 1445,1290],
  [1825,1085, 1980,1078, 1945,1225, 1745,1250, 1740,1220, 1770,1145],
  [1698,937, 1980,942, 1990,975, 1985,1078, 1825,1085, 1770,1045]
];
const geneticColors = ['#6877fc','#5f75f7','#6676fa','#5c70ee','#6678fb','#606ef0','#5e76f2','#6a76fb','#6a78fd','#5e72ef','#5f74ee','#5b6cea','#6670f8','#5868e8','#6375f6','#6575f6','#5c72f0','#5a70ee','#606ff5','#5a68ea','#5a70ee','#6470fb','#656efc','#6474fc','#5d72f1','#6672fa','#5a6ff0','#6575f8','#5e72ee','#5d72ec','#6070f0','#6672ff','#6274fa','#6070f4','#6670ff','#6570ff','#6272fa','#5f6eee','#6670ff','#6a75ff','#5c68ee'];

// origin 3120,0
const geneticRightCells = [
  [35,0, 262,0, 275,130, 105,195, 41,125],
  [105,195, 275,130, 315,358, 140,338, 98,282],
  [140,338, 315,358, 330,440, 112,555, 58,533],
  [112,555, 330,440, 368,652, 175,653],
  [175,653, 368,652, 385,770, 150,838],
  [135,938, 150,838, 385,770, 420,942]
];
const geneticRightColors = ['#5a6eee','#5a6ce8','#5a66e8','#5f6ced','#6068f0','#5e6eee'];

// origin 1560,0
const denimCells = [
  [473,795, 587,875, 450,1072, 430,1073, 325,940],
  [587,875, 742,990, 716,1027, 553,1120, 450,1072],
  [325,940, 430,1073, 168,1190, 105,1147],
  [430,1073, 424,1080, 400,1360, 168,1190],
  [430,1073, 450,1072, 553,1120, 578,1253, 417,1368, 400,1360],
  [553,1120, 716,1027, 740,1255, 655,1302, 578,1253],
  [742,990, 945,1135, 800,1265, 740,1255, 716,1027],
  [945,1135, 1060,1220, 1030,1250, 983,1348, 885,1367, 800,1265],
  [417,1368, 578,1253, 655,1302, 658,1420, 585,1488],
  [655,1302, 740,1255, 800,1265, 885,1367, 825,1460, 658,1420],
  [885,1367, 983,1348, 1050,1445, 987,1558, 853,1542, 825,1460],
  [1060,1220, 1190,1315, 1185,1448, 1050,1445, 983,1348, 1030,1250],
  [585,1488, 658,1420, 825,1460, 853,1542, 790,1632],
  [853,1542, 987,1558, 1037,1647, 968,1760, 790,1632],
  [987,1558, 1050,1445, 1185,1448, 1172,1655, 1037,1647],
  [1037,1647, 1172,1653, 1157,1893, 968,1760]
];
const denimColors = ['#5a76d2','#566cd2','#5475d4','#5066c8','#4e6ad0','#4e6ad0','#4d6ac4','#5670d6','#4e68d0','#5a70d4','#4e68cc','#5a78dc','#5a74d4','#4e6ad0','#5874d6','#5a78d6'];

const royalCells = [
  [1190,1315, 1425,1290, 1445,1375, 1408,1442, 1185,1442],
  [1425,1290, 1668,1262, 1700,1400, 1640,1440, 1445,1375],
  [1668,1262, 1945,1225, 1770,1468, 1700,1400],
  [1408,1442, 1445,1375, 1640,1440, 1615,1530, 1537,1657, 1465,1560, 1408,1500],
  [1185,1442, 1408,1442, 1408,1500, 1310,1638, 1172,1605],
  [1408,1500, 1465,1560, 1537,1657, 1548,1722, 1348,1736, 1310,1638],
  [1640,1440, 1700,1400, 1770,1468, 1705,1568, 1568,1770, 1548,1722, 1537,1657, 1615,1530],
  [1172,1605, 1310,1638, 1348,1736, 1283,1830, 1160,1875],
  [1348,1736, 1548,1722, 1568,1770, 1458,1910, 1283,1830],
  [1160,1875, 1283,1830, 1458,1910, 1368,2042, 1157,1893]
];
const royalColors = ['#5a7cf6','#5a80fa','#5880fb','#567af0','#5a78f2','#5a80f8','#5580f8','#5280fc','#5378f5','#5278f2'];

// origin 0,0
const cobaltCells = [
  [985,0, 1105,0, 1043,282, 1027,297, 920,285],
  [1105,0, 1180,0, 1245,262, 1043,282],
  [1180,0, 1568,0, 1565,112, 1278,325, 1263,325],
  [1278,325, 1565,112, 1643,168, 1600,303],
  [1568,0, 1868,0, 1835,133, 1643,168, 1565,112],
  [1643,168, 1835,133, 1938,282, 1600,303],
  [1868,0, 2055,0, 1975,282, 1938,282, 1835,133],
  [920,285, 1027,297, 1053,412, 893,597, 838,560],
  [1027,297, 1043,282, 1245,262, 1262,328, 1155,505, 1053,412],
  [1053,412, 1155,505, 1037,700, 893,597],
  [1263,325, 1355,320, 1397,438, 1310,590, 1180,467],
  [1355,320, 1648,303, 1590,460, 1562,478, 1397,438],
  [1648,303, 1798,293, 1788,527, 1590,460],
  [1798,293, 1975,282, 1982,345, 1855,555, 1788,527],
  [1982,345, 2002,495, 2030,750, 1958,725, 1855,555],
  [1180,467, 1310,590, 1315,612, 1090,733, 1040,697],
  [1397,438, 1562,478, 1530,617, 1347,647, 1312,590],
  [1562,478, 1590,460, 1788,527, 1695,670, 1615,690, 1530,617],
  [1788,527, 1855,555, 1958,725, 1825,778, 1695,670],
  [1315,612, 1347,647, 1347,692, 1270,865, 1090,733],
  [1347,647, 1530,617, 1615,690, 1585,798, 1505,825, 1347,692],
  [1347,692, 1505,825, 1418,970, 1270,865],
  [1585,798, 1615,690, 1695,670, 1825,778, 1762,910, 1690,910],
  [1958,725, 2030,750, 2035,795, 1835,985, 1762,910, 1825,778],
  [1505,825, 1585,798, 1690,910, 1560,1020, 1530,1048, 1418,970],
  [1690,910, 1762,910, 1835,985, 1665,1145, 1560,1085, 1530,1048]
];
const cobaltColors = ['#5c7ee0','#5a74e2','#6068e8','#5b68ec','#5562ea','#5058e0','#6068e2','#5e7ade','#5a78dd','#546cc8','#4e7ade','#6a8cf0','#4d78e0','#6a84f2','#607ce0','#5278dc','#3e66d0','#3f66d8','#3e70ca','#3862c8','#4c78e0','#6888ec','#6482f2','#4470d6','#5478e6','#6880f2'];

// origin 0,1560
const sandCells = [
  [1250,-465, 1405,-585, 1537,-488, 1458,-355],
  [1537,-488, 1730,-350, 1648,-268, 1475,-310, 1458,-355],
  [1227,-447, 1250,-465, 1458,-355, 1470,-315, 1220,-217],
  [1220,-217, 1470,-315, 1450,-87, 1435,-67, 1220,-180],
  [1220,-180, 1435,-67, 1430,-20, 1395,0, 1220,90, 1210,90],
  [1475,-310, 1648,-268, 1660,-135, 1652,-123, 1450,-87],
  [1430,-20, 1450,-87, 1652,-123, 1655,45, 1522,92, 1440,0],
  [1220,90, 1395,0, 1430,-20, 1440,0, 1522,92, 1505,170, 1375,195],
  [1210,90, 1375,195, 1280,410, 1195,425],
  [1522,92, 1655,45, 1725,85, 1750,215, 1593,250, 1505,170],
  [1375,195, 1505,170, 1593,250, 1605,365, 1435,518, 1280,410],
  [1195,425, 1280,410, 1435,518, 1445,592, 1188,597],
  [1435,518, 1605,365, 1710,415, 1660,547, 1445,592],
  [1188,597, 1443,600, 1392,746, 1183,760],
  [1445,592, 1660,547, 1735,745, 1655,762, 1443,622],
  [1443,622, 1655,762, 1532,887, 1392,746],
  [1392,746, 1532,887, 1565,1028, 1372,1228, 1168,1107, 1183,760],
  [1532,887, 1655,762, 1735,745, 1807,780, 1565,1028],
  [1730,-350, 2005,-157, 1935,-5, 1660,-135, 1648,-268],
  [2005,-157, 2225,0, 2185,55, 2145,72, 1925,0, 1935,-5],
  [1652,-123, 1660,-135, 1935,-5, 1925,22, 1725,85, 1655,45],
  [1725,85, 1922,22, 1935,187, 1835,267, 1750,215],
  [1935,187, 1925,22, 1925,0, 2145,72, 2070,232],
  [2145,72, 2185,55, 2290,283, 2240,335, 2082,260, 2070,232],
  [2185,55, 2225,0, 2432,145, 2290,283],
  [1750,215, 1835,267, 1840,345, 1710,415, 1605,365, 1593,250],
  [1835,267, 1935,187, 2070,232, 2082,260, 1982,413, 1840,345],
  [1710,415, 1840,345, 1982,413, 2052,527, 1807,780, 1735,745, 1660,547],
  [2082,260, 2240,335, 2052,527, 1982,413]
];
const sandColors = ['#e39540','#eb9c44','#d9953f','#e39a40','#e2914a','#d39540','#cc9040','#dc9645','#ea9b48','#cc8b44','#ce8c3f','#eca04a','#d89240','#da9540','#d8963f','#d6903f','#e2924a','#d9903f','#d69240','#e3983f','#cf9240','#e39a40','#d88f4a','#cf8d42','#dc913a','#e2914a','#cc8e42','#cf8f40','#d0884a'];

// Group borders, origin 0,0, from heaviest to lightest.
const heavyEdges = [
  [982,0, 838,565],
  [838,565, 4689,3306],
  [0,750, 240,895, 838,565],
  [222,920, 0,1095],
  [4667,2390, 4005,2810],
  [4667,3405, 4070,4667]
];
const midEdges = [
  [0,2628, 1318,2848],
  [2432,1705, 1318,2848],
  [1318,2848, 1250,3378],
  [0,3617, 1250,3378],
  [1250,3378, 1930,4667],
  [3382,0, 3545,975, 3565,1145],
  [3565,1145, 2930,2047],
  [3565,1145, 4667,1395],
  [4190,2955, 3610,4667],
  [4500,4333, 4660,4667],
  [4270,4267, 4500,4333, 4667,4315]
];
const lightEdges = [
  [1180,0, 1263,325, 1975,282],
  [2055,0, 1975,282, 2033,795],
  [1263,325, 1037,697],
  [2033,795, 1665,1147],
  [2033,795, 2750,1315],
  [2750,1315, 2717,1895],
  [2750,1315, 3505,1225],
  [3708,0, 3667,390],
  [3452,413, 3667,390, 3758,462, 4192,397, 4225,430, 4667,292],
  [4188,0, 4192,397],
  [4225,430, 4245,543, 4667,788],
  [4245,543, 3962,950],
  [3758,462, 3805,880],
  [3805,880, 3962,950],
  [3805,880, 3570,995],
  [3962,950, 4058,1180, 4040,1240],
  [4058,1180, 4667,900],
  [4480,1355, 3988,1915],
  [3500,1380, 3630,1560, 3988,1915],
  [3988,1930, 4080,2085, 4373,2307],
  [4373,2307, 4667,2328],
  [4373,2307, 4450,2525],
  [4080,2085, 3682,2580],
  [3988,1928, 3495,2447],
  [4275,2640, 4555,2870],
  [4555,2870, 4378,3075],
  [0,4202, 547,4082],
  [240,3580, 598,3897, 1290,3460],
  [598,3897, 547,4082, 800,4667],
  [1353,3580, 1045,4667],
  [1728,4340, 1525,4667],
  [1620,2545, 1880,3603],
  [1375,3607, 1880,3603, 2047,3728],
  [2047,3728, 1720,4265],
  [2047,3728, 2657,3878],
  [2657,3878, 3825,2700],
  [2657,3878, 2868,4368],
  [2868,4368, 2705,4667],
  [2868,4368, 3325,4667],
  [0,2495, 962,2782],
  [962,2782, 1168,2667],
  [1168,2667, 1227,1113],
  [612,860, 1227,1113],
  [222,920, 612,860, 618,695],
  [1227,1113, 1405,975],
  [1168,2667, 1372,2788],
  [0,3050, 352,2688]
];
const frameEdge = [0,0, W,0, W,W, 0,W, 0,0];

const groupLabels = [
  { lines: ['Metabolism'], x: 1970, y: 3354, size: 269, leading: 0, bold: true, shadow: 2 },
  { lines: ['Genetic', 'Information', 'Processing'], x: 3478, y: 844, size: 158, leading: 159, bold: true, shadow: 2 },
  { lines: ['Environmental', 'Information', 'Processing'], x: 418, y: 304, size: 45.5, leading: 45, bold: true, shadow: 2 },
  { lines: ['Cellular', 'Processes'], x: 4482, y: 4263, size: 28, leading: 27, bold: true, shadow: 1 },
  { lines: ['Human', 'Diseases'], x: 90, y: 912, size: 15, leading: 14, bold: false, shadow: 1 }
];

function toPoints(flat, dx, dy) {
  const pts = [];
  for (let i = 0; i < flat.length; i += 2) pts.push({ x: flat[i] + dx, y: flat[i + 1] + dy });
  return pts;
}

function cellSet(cells, colors, dx, dy) {
  return cells.map((flat, i) => {
    const pts = toPoints(flat, dx, dy);
    pts.push(pts[0]);
    return { data: pts, showLine: true, pointRadius: 0, borderColor: '#000', borderWidth: 1, cellFill: colors[i] };
  });
}

function baseSet(cells, colors) {
  // same polygons as cells but no outline, they only back the cells up
  return cellSet(cells, colors, 0, 0).map(d => Object.assign(d, { borderWidth: 0 }));
}

function edgeSet(edges, width) {
  return edges.map(flat => ({
    data: toPoints(flat, 0, 0), showLine: true, pointRadius: 0,
    borderColor: '#000', borderWidth: width, borderCapStyle: 'round', borderJoinStyle: 'round'
  }));
}

// painted in this order
const painted = [
  ...baseSet(baseCells, baseColors),
  ...cellSet(envCells, envColors, 0, 0),
  ...cellSet(greenTopCells, greenTopColors, 0, 0),
  ...cellSet(greenUpperCells, greenUpperColors, 0, 0),
  ...cellSet(greenLowerCells, greenLowerColors, 0, 1560),
  ...cellSet(brownTopCells, brownTopColors, 0, 1560),
  ...cellSet(brownLowCells, brownLowColors, 0, 3120),
  ...cellSet(redCells, redColors, 0, 3120),
  ...cellSet(umberCells, umberColors, 0, 3120),
  ...cellSet(rustCells, rustColors, 0, 3120),
  ...cellSet(copperCells, copperColors, 0, 3120),
  ...cellSet(sepiaCells, sepiaColors, 0, 3120),
  ...cellSet(amberTopCells, amberTopColors, 0, 1560),
  ...cellSet(amberLowCells, amberLowColors, 0, 3120),
  ...cellSet(goldCells, goldColors, 1560, 3120),
  ...cellSet(yellowCells, yellowColors, 1560, 1560),
  ...cellSet(yellowRightCells, yellowRightColors, 3120, 1560),
  ...cellSet(yellowLowCells, yellowLowColors, 1560, 3120),
  ...cellSet(ochreCells, ochreColors, 3120, 3120),
  ...cellSet(ochreLeftCells, ochreLeftColors, 1560, 3120),
  ...cellSet(tanCells, tanColors, 3120, 3120),
  ...cellSet(crimsonCells, crimsonColors, 3120, 3120),
  ...cellSet(indigoCells, indigoColors, 3120, 1560),
  ...cellSet(skyCells, skyColors, 3120, 1560),
  ...cellSet(azureCells, azureColors, 3120, 1560),
  ...cellSet(steelCells, steelColors, 3120, 0),
  ...cellSet(paleCells, paleColors, 3120, 0),
  ...cellSet(geneticCells, geneticColors, 1560, 0),
  ...cellSet(geneticRightCells, geneticRightColors, 3120, 0),
  ...cellSet(denimCells, denimColors, 1560, 0),
  ...cellSet(royalCells, royalColors, 1560, 0),
  ...cellSet(cobaltCells, cobaltColors, 0, 0),
  ...cellSet(sandCells, sandColors, 0, 1560),
  ...edgeSet(lightEdges, 2.4),
  ...edgeSet(midEdges, 4.2),
  ...edgeSet(heavyEdges, 7.5),
  ...edgeSet([frameEdge], 24)
];

// fills each cell from the points the library has laid out
const cellFillPlugin = {
  id: 'cellFill',
  beforeDatasetDraw(chart, args) {
    const fill = chart.data.datasets[args.index].cellFill;
    if (!fill) return;
    const ctx = chart.ctx;
    ctx.save();
    ctx.beginPath();
    args.meta.data.forEach((p, i) => (i ? ctx.lineTo(p.x, p.y) : ctx.moveTo(p.x, p.y)));
    ctx.closePath();
    ctx.fillStyle = fill;
    ctx.fill();
    ctx.restore();
  }
};

const labelPlugin = {
  id: 'groupLabels',
  afterDraw(chart) {
    const ctx = chart.ctx, sx = chart.scales.x, sy = chart.scales.y;
    groupLabels.forEach(l => {
      ctx.save();
      ctx.font = (l.bold ? 'bold ' : '') + l.size + 'px "DejaVu Sans"';
      ctx.textAlign = 'center';
      ctx.textBaseline = 'alphabetic';
      ctx.lineJoin = 'round';
      l.lines.forEach((line, i) => {
        const x = sx.getPixelForValue(l.x);
        const y = sy.getPixelForValue(l.y) + i * l.leading;
        ctx.shadowColor = 'rgba(0,0,0,0.5)';
        ctx.shadowOffsetX = l.shadow;
        ctx.shadowOffsetY = l.shadow;
        ctx.shadowBlur = 0;
        ctx.fillStyle = '#fff';
        ctx.fillText(line, x, y);
        ctx.shadowColor = 'transparent';
        ctx.strokeStyle = '#000';
        ctx.lineWidth = 0.7;
        ctx.strokeText(line, x, y);
        ctx.fillText(line, x, y);
      });
      ctx.restore();
    });
  }
};

new Chart(document.getElementById('treemap'), {
  type: 'scatter',
  // the library paints the first dataset last
  data: { datasets: painted.slice().reverse() },
  options: {
    responsive: false,
    animation: false,
    events: [],
    layout: { padding: 0 },
    elements: { line: { tension: 0 } },
    plugins: { legend: { display: false }, tooltip: { enabled: false } },
    scales: {
      x: { type: 'linear', display: false, min: 0, max: W },
      y: { type: 'linear', display: false, min: 0, max: W, reverse: true }
    }
  },
  plugins: [cellFillPlugin, labelPlugin]
});
</script>
</body>
</html>
